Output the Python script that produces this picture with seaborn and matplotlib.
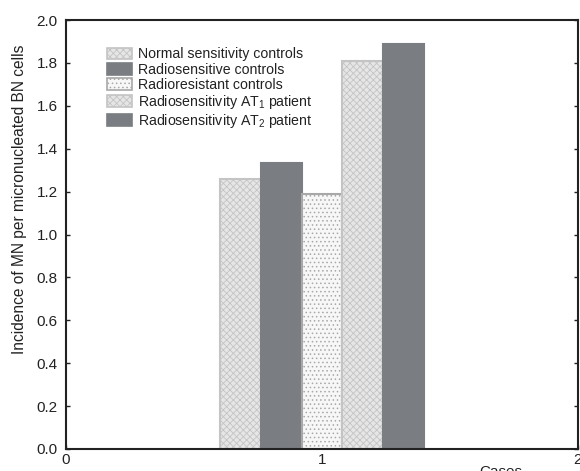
import numpy as np
import pandas as pd
import matplotlib
matplotlib.use("Agg")
import matplotlib.pyplot as plt
import matplotlib.patches as mpatches
import seaborn as sns

# ---- data ----
groups = ["Normal sensitivity controls",
          "Radiosensitive controls",
          "Radioresistant controls",
          "Radiosensitivity AT$_1$ patient",
          "Radiosensitivity AT$_2$ patient"]
cases = [1, 1, 1, 1, 1]
incidence = [1.26, 1.333, 1.19, 1.81, 1.89]
x_ticks = [0, 1, 2]
y_ticks = [0.0, 0.2, 0.4, 0.6, 0.8, 1.0, 1.2, 1.4, 1.6, 1.8, 2.0]

# ---- styles ----
faces = ["#e6e6e6", "#7a7e82", "#f7f7f7", "#e6e6e6", "#7a7e82"]
edges = ["#c4c4c4", "#7a7e82", "#a8a8a8", "#c4c4c4", "#7a7e82"]
hatches = ["xxxxx", None, "....", "xxxxx", None]

sns.set_theme(style="white")
plt.rcParams["font.family"] = ["Liberation Sans", "DejaVu Sans"]
plt.rcParams["mathtext.fontset"] = "custom"
plt.rcParams["mathtext.rm"] = "Liberation Sans"
plt.rcParams["mathtext.it"] = "Liberation Sans:italic"
plt.rcParams["hatch.linewidth"] = 0.6

fig = plt.figure(figsize=(5.8, 4.71), dpi=100)
ax = fig.add_axes([66 / 580, 22 / 471, 512 / 580, 429 / 471])

df = pd.DataFrame({"case": cases, "value": incidence, "group": groups})
sns.barplot(data=df, x="case", y="value", hue="group", hue_order=groups,
            native_scale=True, dodge=True, width=0.8,
            palette=faces, saturation=1, legend=False, ax=ax, errorbar=None)

for bar, fc, ec, h in zip(ax.patches, faces, edges, hatches):
    bar.set_facecolor(fc)
    bar.set_edgecolor(ec)
    bar.set_linewidth(1.5)
    if h:
        bar.set_hatch(h)

ax.set_xlim(0, 2)
ax.set_ylim(0, 2.0)
ax.set_xticks(x_ticks)
ax.set_xticklabels([str(t) for t in x_ticks])
ax.set_yticks(y_ticks)
ax.set_yticklabels([f"{t:.1f}" for t in y_ticks])
ax.tick_params(axis="both", direction="in", length=3, width=1, colors="#222222",
               labelsize=11, labelcolor="#222222")
ax.tick_params(axis="y", right=True, left=True, pad=6)
ax.tick_params(axis="x", bottom=True, pad=3)
for s in ax.spines.values():
    s.set_visible(True)
    s.set_color("#222222")
    s.set_linewidth(1.5)

ax.set_xlabel("")
ax.set_ylabel("Incidence of MN per micronucleated BN cells", fontsize=11.2,
              color="#222222", va="center")
ax.yaxis.set_label_coords(-(66 - 20) / 512, 0.583)
fig.text(501 / 580, 1 - 465 / 471, "Cases", ha="center", va="top",
         fontsize=11, color="#222222")

handles = []
for fc, ec, h in zip(faces, edges, hatches):
    p = mpatches.Patch(facecolor=fc, edgecolor=ec, hatch=h, linewidth=1.2)
    handles.append(p)
ax.legend(handles, groups, loc="upper left", bbox_to_anchor=(0.08, 0.936),
          frameon=False, fontsize=10.2, handlelength=1.75, handleheight=0.9,
          handletextpad=0.42, labelspacing=0.08, borderaxespad=0,
          borderpad=0, labelcolor="#222222")

fig.savefig("out.png", dpi=100)
